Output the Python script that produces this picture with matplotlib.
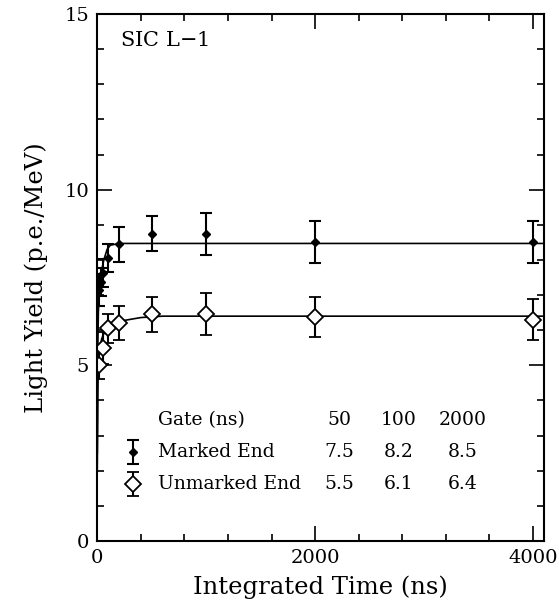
import numpy as np
import matplotlib
matplotlib.use('Agg')
import matplotlib.pyplot as plt
from matplotlib.ticker import MultipleLocator

plt.rcParams['font.family'] = ['DejaVu Serif']

# data
marked_t = [20, 30, 50, 100, 200, 500, 1000, 2000, 4000]
marked_y = [7.15, 7.38, 7.62, 8.05, 8.45, 8.75, 8.75, 8.5, 8.5]
marked_err = [0.45, 0.4, 0.4, 0.4, 0.5, 0.5, 0.6, 0.6, 0.6]

unmarked_t = [20, 50, 100, 200, 500, 1000, 2000, 4000]
unmarked_y = [5.0, 5.5, 6.05, 6.2, 6.45, 6.45, 6.38, 6.3]
unmarked_err = [0.4, 0.45, 0.4, 0.48, 0.5, 0.6, 0.57, 0.58]

# fitted curves
marked_fit_t = [0, 5, 10, 20, 40, 60, 90, 120, 200, 4100]
marked_fit_y = [2.5, 5.5, 6.5, 7.2, 7.7, 8.0, 8.3, 8.42, 8.47, 8.47]
unmarked_fit_t = [0, 5, 10, 20, 40, 60, 100, 150, 250, 400, 600, 4100]
unmarked_fit_y = [2.0, 4.3, 5.0, 5.4, 5.75, 5.9, 6.05, 6.15, 6.28, 6.36, 6.4, 6.4]

# gate table
gate_ns = [50, 100, 2000]
marked_gate = [7.5, 8.2, 8.5]
unmarked_gate = [5.5, 6.1, 6.4]

fig = plt.figure(figsize=(5.59, 6.11), dpi=100)
ax = fig.add_axes([0.174, 0.1146, 0.799, 0.8624])

ax.plot(marked_fit_t, marked_fit_y, color='k', lw=1.2)
ax.plot(unmarked_fit_t, unmarked_fit_y, color='k', lw=1.2)

ax.errorbar(marked_t, marked_y, yerr=marked_err, fmt='D', color='k', ms=4,
            capsize=4, capthick=1.5, elinewidth=1.5)
ax.errorbar(unmarked_t, unmarked_y, yerr=unmarked_err, fmt='D', color='k', ms=8.5,
            mfc='white', mew=1.3, capsize=4, capthick=1.5, elinewidth=1.5)

# legend drawn as a little table
lx = 0.079
ax.errorbar([lx], [0.169], yerr=[0.023], fmt='D', color='k', ms=4, capsize=4,
            capthick=1.5, elinewidth=1.5, transform=ax.transAxes, clip_on=False)
ax.errorbar([lx], [0.108], yerr=[0.023], fmt='D', color='k', ms=8.5, mfc='white',
            mew=1.3, capsize=4, capthick=1.5, elinewidth=1.5, transform=ax.transAxes,
            clip_on=False)
fs = 13.5
tx = 0.135
cols = [0.541, 0.675, 0.819]
rows = [0.2296, 0.169, 0.108]
ax.text(tx, rows[0], 'Gate (ns)', transform=ax.transAxes, fontsize=fs, va='center')
ax.text(tx, rows[1], 'Marked End', transform=ax.transAxes, fontsize=fs, va='center')
ax.text(tx, rows[2], 'Unmarked End', transform=ax.transAxes, fontsize=fs, va='center')
for i in range(3):
    ax.text(cols[i], rows[0], str(gate_ns[i]), transform=ax.transAxes, fontsize=fs,
            va='center', ha='center')
    ax.text(cols[i], rows[1], '%.1f' % marked_gate[i], transform=ax.transAxes,
            fontsize=fs, va='center', ha='center')
    ax.text(cols[i], rows[2], '%.1f' % unmarked_gate[i], transform=ax.transAxes,
            fontsize=fs, va='center', ha='center')

ax.text(0.05, 0.95, 'SIC L$-$1', transform=ax.transAxes, fontsize=15,
        va='center', ha='left')

ax.set_xlim(0, 4100)
ax.set_ylim(0, 15)
ax.xaxis.set_major_locator(MultipleLocator(2000))
ax.xaxis.set_minor_locator(MultipleLocator(400))
ax.yaxis.set_major_locator(MultipleLocator(5))
ax.yaxis.set_minor_locator(MultipleLocator(1))
ax.tick_params(which='both', direction='in', top=True, right=True, width=1.2,
               labelsize=14)
ax.tick_params(which='major', length=11, pad=6)
ax.tick_params(which='minor', length=5)
for s in ax.spines.values():
    s.set_linewidth(1.5)

ax.set_xlabel('Integrated Time (ns)', fontsize=17.5, labelpad=6)
ax.set_ylabel('Light Yield (p.e./MeV)', fontsize=17.5, labelpad=12)

fig.savefig('out.png', dpi=100)
